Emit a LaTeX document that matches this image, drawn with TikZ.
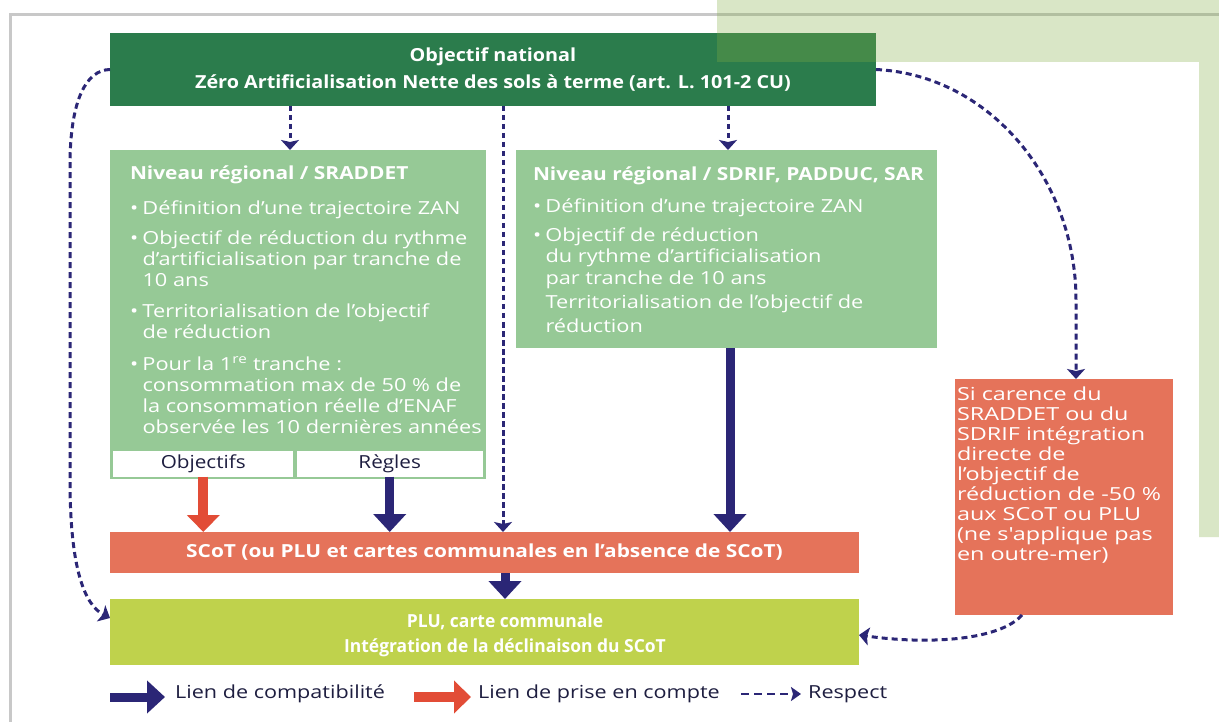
\documentclass[tikz,border=0pt]{standalone}
\usepackage{fontspec}
\setmainfont{Open Sans}
\newfontfamily\bodyf{Open Sans}[FakeStretch=1.21]
\newfontfamily\carf{Open Sans}[FakeStretch=1.3]
\newfontfamily\titlef{Open Sans}[FakeStretch=1.16]
\newfontfamily\topf{Open Sans}[FakeStretch=1.1]
\newfontfamily\pluf{Open Sans}[FakeStretch=0.97]
\newfontfamily\legf{Open Sans}[FakeStretch=1.2]
\newfontfamily\cellf{Open Sans}[FakeStretch=1.15]
\usetikzlibrary{arrows.meta,calc}
\definecolor{dgreen}{HTML}{2B7C4C}
\definecolor{lgreen}{HTML}{96C996}
\definecolor{orng}{HTML}{E5735A}
\definecolor{limegr}{HTML}{BFD24C}
\definecolor{navy}{HTML}{2B2676}
\definecolor{redarr}{HTML}{E24C36}
\definecolor{framegray}{HTML}{C8C8C8}
\definecolor{overlaygr}{RGB}{130,173,68}
\definecolor{celltext}{HTML}{1E1E40}
\newcommand{\bul}{\makebox[12.5pt][l]{•}}
\newcommand{\ind}{\hspace*{12.5pt}}
\tikzset{
  boxnode/.style={inner sep=0pt, outer sep=0pt},
  boxtext/.style={text=white, inner sep=0pt, outer sep=0pt, align=left, anchor=north west,
    font=\bodyf\fontsize{18}{21.2}\selectfont},
  respect/.style={navy, line width=3pt, dash pattern=on 5.5pt off 3.5pt,
    -{Stealth[length=10pt,width=18pt,inset=2pt]}},
  compat/.style={navy, line width=9pt, -{Triangle[length=18pt,width=32pt]}},
  prise/.style={redarr, line width=10pt, -{Triangle[length=17pt,width=32pt]}},
  legtext/.style={text=celltext, inner sep=0pt, anchor=west, font=\legf\fontsize{18}{20}\selectfont},
  celltxt/.style={text=celltext, font=\cellf\fontsize{18}{20}\selectfont},
}
\begin{document}
\begin{tikzpicture}[x=1pt,y=-1pt]
\useasboundingbox (0,0) rectangle (1219,722);
\fill[white] (0,0) rectangle (1219,722);
% frame
\draw[framegray, line width=3pt] (10,722) -- (10,15) -- (1219,15);

% boxes
\node[boxnode, fill=dgreen, minimum width=766pt, minimum height=73pt, text=white,
  align=center, font=\topf\bfseries\fontsize{18}{27}\selectfont] (top) at (493,69.5)
  {Objectif national\\Zéro Artificialisation Nette des sols à terme (art. L. 101-2 CU)};

\node[boxnode, fill=lgreen, minimum width=376pt, minimum height=329pt] (sraddet) at (298,314.5) {};
\node[boxnode, fill=white, minimum width=180pt, minimum height=26pt, celltxt] (obj) at (203.3,463.5) {Objectifs};
\node[boxnode, fill=white, minimum width=186pt, minimum height=26pt, celltxt] (regles) at (389.7,463.5) {Règles};
\node[boxtext] (sraddettext) at (130,166) {%
  {\titlef\bfseries Niveau régional / SRADDET}\\[14pt]
  \bul Définition d’une trajectoire ZAN\\[8pt]
  \bul Objectif de réduction du rythme\\
  \ind d’artificialisation par tranche de\\
  \ind 10 ans\\[10pt]
  \bul Territorialisation de l’objectif\\
  \ind de réduction\\[10pt]
  \bul Pour la 1\textsuperscript{re} tranche :\\
  \ind consommation max de 50 \% de\\
  \ind la consommation réelle d’ENAF\\
  \ind observée les 10 dernières années};

\node[boxnode, fill=lgreen, minimum width=421pt, minimum height=198pt] (sdrif) at (726.5,249) {};
\node[boxtext] (sdriftext) at (533,166.5) {%
  {\titlef\bfseries Niveau régional / SDRIF, PADDUC, SAR}\\[11pt]
  \bul Définition d’une trajectoire ZAN\\[8pt]
  \bul Objectif de réduction\\
  \ind du rythme d’artificialisation\\
  \ind par tranche de 10 ans\\[3pt]
  \ind Territorialisation de l’objectif de\\[3pt]
  \ind réduction};

\node[boxnode, fill=orng, minimum width=218pt, minimum height=236pt] (carence) at (1064,497) {};
\node[boxtext, font=\carf\fontsize{18}{20}\selectfont] (carencetext) at (957,387) {%
  Si carence du\\
  SRADDET ou du\\
  SDRIF intégration\\
  directe de\\
  l’objectif de\\
  réduction de -50 \%\\
  aux SCoT ou PLU\\
  (ne s'applique pas\\
  en outre-mer)};

\node[boxnode, fill=orng, minimum width=749pt, minimum height=41pt, text=white,
  font=\titlef\bfseries\fontsize{18}{20}\selectfont] (scot) at (484.5,552.5)
  {SCoT (ou PLU et cartes communales en l’absence de SCoT)};

\node[boxnode, fill=limegr, minimum width=749pt, minimum height=66pt] (plu) at (484.5,632) {};
\node[boxnode, text=white, align=center, font=\pluf\bfseries\fontsize{18}{25}\selectfont]
  (plutext) at (505,635) {PLU, carte communale\\Intégration de la déclinaison du SCoT};

% helper coordinates
\coordinate (x290) at (290,0);
\coordinate (x503) at (503,0);
\coordinate (x728) at (728,0);
\coordinate (x730) at (730,0);
\coordinate (x505) at (505,0);
\coordinate (pluL) at ($(plu.west)+(0,-14)$);
\coordinate (pluR) at ($(plu.east)+(0,3)$);
\coordinate (carN) at ($(carence.north)+(12,0)$);
\coordinate (carS) at ($(carence.south)+(-42,0)$);

% respect (dashed) links
\draw[respect] (top.south -| x290) -- (sraddet.north -| x290);
\draw[respect] (top.south -| x728) -- (sdrif.north -| x728);
\draw[respect] (top.south -| x503) -- (scot.north -| x503);
\draw[respect, dash pattern=on 6pt off 4pt] (top.west) .. controls (86,70) and (71,100) .. (70,160)
  -- (70,480) .. controls (70,570) and (85,605) .. (pluL);
\draw[respect, dash pattern=on 6pt off 4pt] (top.east) .. controls (990,75) and (1076,180) .. (1076,300)
  -- (carN);
\draw[respect, dash pattern=on 6pt off 4pt] (carS) .. controls (1000,640) and (930,645) .. (pluR);

% compatibility / prise en compte links
\draw[prise] (obj.south) -- (obj.south |- scot.north);
\draw[compat] (regles.south) -- (regles.south |- scot.north);
\draw[compat] (sdrif.south -| x730) -- (scot.north -| x730);
\draw[compat] (scot.south -| x505) -- (plu.north -| x505);

% legend
\coordinate (l1a) at (110,697);
\coordinate (l1b) at (165,697);
\coordinate (l2a) at (414,697);
\coordinate (l2b) at (471,697);
\coordinate (l3a) at (741,694);
\coordinate (l3b) at (801,694);
\draw[compat] (l1a) -- (l1b);
\node[legtext] (leg1) at (175,694) {Lien de compatibilité};
\draw[prise] (l2a) -- (l2b);
\node[legtext] (leg2) at (478,694) {Lien de prise en compte};
\draw[respect, line width=2.6pt, dash pattern=on 8pt off 5pt,
  -{Stealth[length=10pt,width=14pt,inset=2pt]}] (l3a) -- (l3b);
\node[legtext] (leg3) at (808,694) {Respect};

% translucent decorative band (top right)
\fill[overlaygr, fill opacity=0.3] (717,0) -- (1219,0) -- (1219,537) -- (1199,537)
  -- (1199,62) -- (717,62) -- cycle;
\end{tikzpicture}
\end{document}
